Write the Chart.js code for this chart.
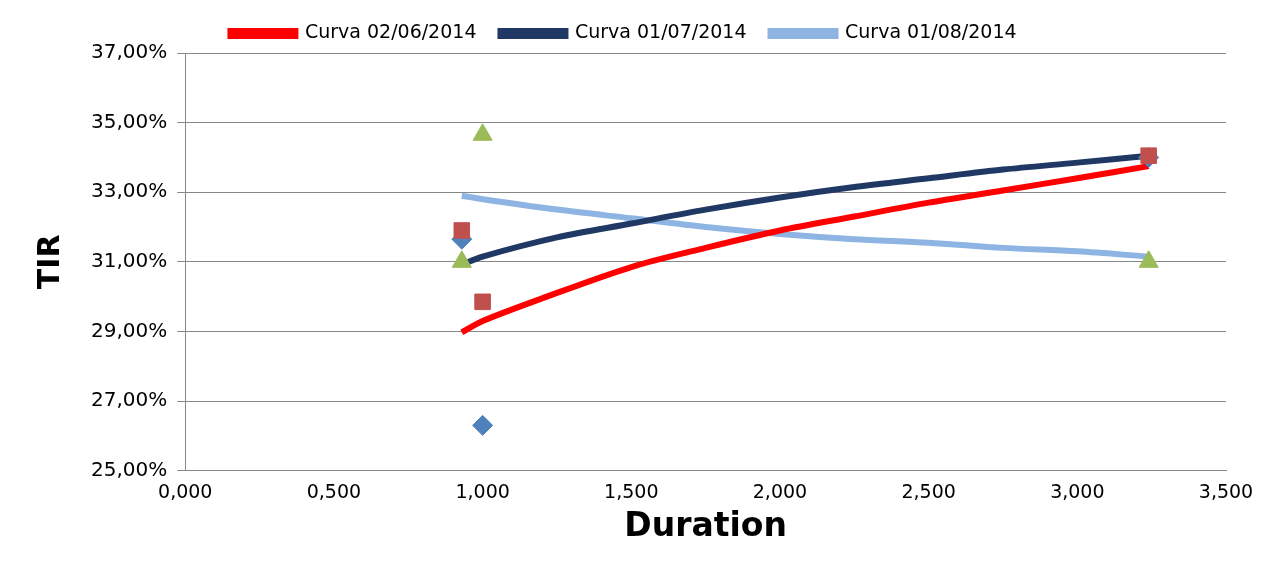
<!DOCTYPE html>
<html><head><meta charset="utf-8">
<script src="https://cdn.jsdelivr.net/npm/chart.js@4"></script>
<style>body{margin:0;background:#fff}#w{width:1271px;height:574px}</style>
</head><body><div id="w"><canvas id="c"></canvas></div>
<script>
// Curvas (duration, TIR %)
const curvaJun = [[0.93,28.97],[1.0,29.3],[1.2,29.95],[1.5,30.85],[1.75,31.4],[2.0,31.9],[2.25,32.3],[2.5,32.7],[2.75,33.05],[3.0,33.4],[3.24,33.75]];
const curvaJul = [[0.93,30.92],[1.0,31.15],[1.25,31.7],[1.5,32.1],[1.75,32.5],[2.0,32.85],[2.25,33.15],[2.5,33.4],[2.75,33.65],[3.0,33.85],[3.24,34.05]];
const curvaAgo = [[0.93,32.9],[1.0,32.8],[1.25,32.5],[1.5,32.25],[1.75,32.0],[2.0,31.8],[2.25,31.65],[2.5,31.55],[2.75,31.4],[3.0,31.3],[3.24,31.15]];
// Pontos observados
const pontosAzul = [[0.93,31.65],[1.0,26.3],[3.24,34.0]];
const pontosVermelho = [[0.93,31.9],[1.0,29.85],[3.24,34.05]];
const pontosVerde = [[0.93,31.0],[1.0,34.65],[3.24,31.0]];

const pts = a => a.map(([x, y]) => ({ x, y }));
const linha = (label, d, cor) => ({ label, data: pts(d), borderColor: cor, backgroundColor: cor,
  borderWidth: 6, pointRadius: 0, showLine: true, tension: 0.3, order: 4 });
const marca = (d, cor, estilo, r, ordem) => ({ label: "", data: pts(d), backgroundColor: cor, borderColor: cor,
  pointStyle: estilo, pointRadius: r, showLine: false, order: ordem });

const fmt = (v, n) => v.toFixed(n).replace(".", ",");
const fonte = { family: "DejaVu Sans", size: 19 };

new Chart(document.querySelector("#c"), {
  type: "scatter",
  data: { datasets: [
    linha("Curva 02/06/2014", curvaJun, "#ff0000"),
    linha("Curva 01/07/2014", curvaJul, "#1f3864"),
    linha("Curva 01/08/2014", curvaAgo, "#8db4e2"),
    marca(pontosAzul, "#4f81bd", "rectRot", 10, 3),
    marca(pontosVermelho, "#c0504d", "rect", 11, 1),
    marca(pontosVerde, "#9bbb59", "triangle", 11, 2),
  ]},
  options: {
    responsive: true, maintainAspectRatio: false, animation: false,
    layout: { padding: { left: 21, right: 45, top: 0, bottom: 27 } },
    plugins: {
      legend: { labels: { filter: i => i.text !== "", boxWidth: 65, boxHeight: 5, padding: 24,
        color: "#000", font: fonte } },
      tooltip: { enabled: false }
    },
    scales: {
      x: { min: 0, max: 3.5, grid: { display: false },
        border: { color: "#888" },
        ticks: { stepSize: 0.5, color: "#000", font: fonte, callback: v => fmt(v, 3) },
        title: { display: true, text: "Duration", color: "#000", padding: 0, font: { family: "DejaVu Sans", size: 33, weight: "bold" } } },
      y: { min: 25, max: 37, grid: { color: "#888" }, border: { color: "#888" },
        ticks: { stepSize: 2, color: "#000", font: { family: "DejaVu Sans", size: 20 }, padding: 10, callback: v => fmt(v, 2) + "%" },
        title: { display: true, text: "TIR", color: "#000", padding: 12, font: { family: "DejaVu Sans", size: 30, weight: "bold" } } }
    }
  }
});
</script></body></html>
